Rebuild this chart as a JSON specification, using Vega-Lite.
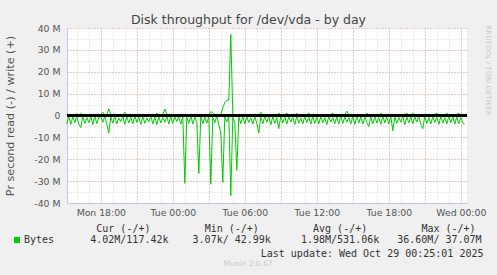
{
"$schema": "https://vega.github.io/schema/vega-lite/v6.json",
"width": 400, "height": 175,
"autosize": {"type": "none"},
"padding": {"left": 67, "top": 28, "right": 30, "bottom": 72},
"background": "#f0f0f0",
"config": {"view": {"stroke": null, "fill": "#ffffff"}, "font": "DejaVu Sans"},
"title": {"text": "Munin 2.0.67", "orient": "bottom", "frame": "group", "anchor": "middle", "dx": -19, "font": "DejaVu Sans", "fontSize": 7.5, "fontWeight": "normal", "color": "#c8c8c8", "offset": 2},
"datasets": {"d": [
{"t":"2025-10-27T15:10Z","r":-3.8,"w":0.3},{"t":"2025-10-27T15:20Z","r":-0.3,"w":0.2},{"t":"2025-10-27T15:30Z","r":-4.1,"w":0.4},{"t":"2025-10-27T15:40Z","r":-0.6,"w":0.1},{"t":"2025-10-27T15:50Z","r":-3.2,"w":0.3},
{"t":"2025-10-27T16:00Z","r":-0.4,"w":0.8},{"t":"2025-10-27T16:10Z","r":-3.9,"w":0.3},{"t":"2025-10-27T16:20Z","r":-5.5,"w":0.9},{"t":"2025-10-27T16:30Z","r":-0.5,"w":0.2},{"t":"2025-10-27T16:40Z","r":-3.6,"w":0.4},{"t":"2025-10-27T16:50Z","r":-0.9,"w":0.3},
{"t":"2025-10-27T17:00Z","r":-3.3,"w":0.2},{"t":"2025-10-27T17:10Z","r":-0.4,"w":0.5},{"t":"2025-10-27T17:20Z","r":-4.2,"w":0.3},{"t":"2025-10-27T17:30Z","r":-0.2,"w":0.4},{"t":"2025-10-27T17:40Z","r":-3.7,"w":0.2},{"t":"2025-10-27T17:50Z","r":-1.0,"w":0.3},
{"t":"2025-10-27T18:00Z","r":-0.5,"w":0.4},{"t":"2025-10-27T18:10Z","r":-3.1,"w":1.5},{"t":"2025-10-27T18:20Z","r":-0.3,"w":0.3},{"t":"2025-10-27T18:30Z","r":-3.8,"w":0.5},{"t":"2025-10-27T18:40Z","r":-8.0,"w":3.0},{"t":"2025-10-27T18:50Z","r":-0.6,"w":0.4},
{"t":"2025-10-27T19:00Z","r":-3.5,"w":0.2},{"t":"2025-10-27T19:10Z","r":-0.4,"w":0.6},{"t":"2025-10-27T19:20Z","r":-3.9,"w":0.3},{"t":"2025-10-27T19:30Z","r":-1.1,"w":0.2},{"t":"2025-10-27T19:40Z","r":-2.8,"w":0.4},{"t":"2025-10-27T19:50Z","r":-0.3,"w":0.3},
{"t":"2025-10-27T20:00Z","r":-4.0,"w":1.5},{"t":"2025-10-27T20:10Z","r":-0.5,"w":0.3},{"t":"2025-10-27T20:20Z","r":-3.4,"w":0.2},{"t":"2025-10-27T20:30Z","r":-0.8,"w":0.5},{"t":"2025-10-27T20:40Z","r":-3.9,"w":0.3},{"t":"2025-10-27T20:50Z","r":-0.2,"w":0.2},
{"t":"2025-10-27T21:00Z","r":-3.2,"w":0.4},{"t":"2025-10-27T21:10Z","r":-0.7,"w":0.3},{"t":"2025-10-27T21:20Z","r":-4.1,"w":0.2},{"t":"2025-10-27T21:30Z","r":-0.4,"w":0.6},{"t":"2025-10-27T21:40Z","r":-3.6,"w":0.3},{"t":"2025-10-27T21:50Z","r":-1.2,"w":0.4},
{"t":"2025-10-27T22:00Z","r":-2.9,"w":0.2},{"t":"2025-10-27T22:10Z","r":-0.3,"w":0.3},{"t":"2025-10-27T22:20Z","r":-3.8,"w":0.5},{"t":"2025-10-27T22:30Z","r":-0.5,"w":0.2},{"t":"2025-10-27T22:40Z","r":-4.2,"w":1.0},{"t":"2025-10-27T22:50Z","r":-0.6,"w":0.3},
{"t":"2025-10-27T23:00Z","r":-3.4,"w":0.4},{"t":"2025-10-27T23:10Z","r":-0.9,"w":0.2},{"t":"2025-10-27T23:20Z","r":-3.1,"w":3.0},{"t":"2025-10-27T23:30Z","r":-0.4,"w":0.5},{"t":"2025-10-27T23:40Z","r":-3.9,"w":0.3},{"t":"2025-10-27T23:50Z","r":-0.3,"w":0.2},
{"t":"2025-10-28T00:00Z","r":-3.7,"w":0.3},{"t":"2025-10-28T00:10Z","r":-0.5,"w":0.4},{"t":"2025-10-28T00:20Z","r":-2.8,"w":0.2},{"t":"2025-10-28T00:30Z","r":-0.6,"w":0.3},{"t":"2025-10-28T00:40Z","r":-4.0,"w":0.5},{"t":"2025-10-28T00:50Z","r":-0.4,"w":0.2},
{"t":"2025-10-28T01:00Z","r":-31.0,"w":0.4},{"t":"2025-10-28T01:10Z","r":-0.8,"w":0.2},{"t":"2025-10-28T01:20Z","r":-3.6,"w":0.3},{"t":"2025-10-28T01:30Z","r":-0.3,"w":0.6},{"t":"2025-10-28T01:40Z","r":-3.9,"w":0.2},{"t":"2025-10-28T01:50Z","r":-0.7,"w":0.3},
{"t":"2025-10-28T02:00Z","r":-3.2,"w":0.3},{"t":"2025-10-28T02:10Z","r":-26.5,"w":0.5},{"t":"2025-10-28T02:20Z","r":-0.4,"w":0.2},{"t":"2025-10-28T02:30Z","r":-3.8,"w":0.4},{"t":"2025-10-28T02:40Z","r":-0.6,"w":0.3},{"t":"2025-10-28T02:50Z","r":-3.5,"w":0.2},
{"t":"2025-10-28T03:00Z","r":-0.5,"w":0.4},{"t":"2025-10-28T03:10Z","r":-31.4,"w":1.8},{"t":"2025-10-28T03:20Z","r":-0.8,"w":1.2},{"t":"2025-10-28T03:30Z","r":-3.3,"w":0.3},{"t":"2025-10-28T03:40Z","r":-0.2,"w":0.2},{"t":"2025-10-28T03:50Z","r":-4.1,"w":0.4},
{"t":"2025-10-28T04:00Z","r":-8.0,"w":0.5},{"t":"2025-10-28T04:10Z","r":-30.5,"w":3.5},{"t":"2025-10-28T04:20Z","r":-0.6,"w":6.0},{"t":"2025-10-28T04:30Z","r":-2.9,"w":7.0},{"t":"2025-10-28T04:40Z","r":-0.4,"w":7.0},{"t":"2025-10-28T04:50Z","r":-36.6,"w":37.07},
{"t":"2025-10-28T05:00Z","r":-0.8,"w":0.3},{"t":"2025-10-28T05:10Z","r":-3.4,"w":0.2},{"t":"2025-10-28T05:20Z","r":-25.0,"w":0.4},{"t":"2025-10-28T05:30Z","r":-0.5,"w":0.3},{"t":"2025-10-28T05:40Z","r":-3.7,"w":0.5},{"t":"2025-10-28T05:50Z","r":-0.3,"w":0.2},
{"t":"2025-10-28T06:00Z","r":-3.9,"w":0.3},{"t":"2025-10-28T06:10Z","r":-0.6,"w":0.4},{"t":"2025-10-28T06:20Z","r":-3.2,"w":0.2},{"t":"2025-10-28T06:30Z","r":-1.0,"w":0.5},{"t":"2025-10-28T06:40Z","r":-4.0,"w":0.3},{"t":"2025-10-28T06:50Z","r":-0.4,"w":0.6},
{"t":"2025-10-28T07:00Z","r":-3.5,"w":0.2},{"t":"2025-10-28T07:10Z","r":-8.0,"w":0.3},{"t":"2025-10-28T07:20Z","r":-0.5,"w":1.5},{"t":"2025-10-28T07:30Z","r":-3.8,"w":0.4},{"t":"2025-10-28T07:40Z","r":-0.3,"w":0.2},{"t":"2025-10-28T07:50Z","r":-3.1,"w":0.3},
{"t":"2025-10-28T08:00Z","r":-0.7,"w":0.4},{"t":"2025-10-28T08:10Z","r":-4.2,"w":0.2},{"t":"2025-10-28T08:20Z","r":-0.4,"w":0.3},{"t":"2025-10-28T08:30Z","r":-3.6,"w":0.5},{"t":"2025-10-28T08:40Z","r":-0.9,"w":0.2},{"t":"2025-10-28T08:50Z","r":-6.0,"w":1.0},
{"t":"2025-10-28T09:00Z","r":-0.3,"w":0.3},{"t":"2025-10-28T09:10Z","r":-3.4,"w":0.2},{"t":"2025-10-28T09:20Z","r":-0.6,"w":0.4},{"t":"2025-10-28T09:30Z","r":-3.9,"w":1.0},{"t":"2025-10-28T09:40Z","r":-0.5,"w":0.3},{"t":"2025-10-28T09:50Z","r":-3.0,"w":0.2},
{"t":"2025-10-28T10:00Z","r":-0.8,"w":0.5},{"t":"2025-10-28T10:10Z","r":-4.1,"w":0.3},{"t":"2025-10-28T10:20Z","r":-0.3,"w":1.0},{"t":"2025-10-28T10:30Z","r":-3.5,"w":0.2},{"t":"2025-10-28T10:40Z","r":-1.1,"w":0.4},{"t":"2025-10-28T10:50Z","r":-3.8,"w":0.3},
{"t":"2025-10-28T11:00Z","r":-0.4,"w":0.2},{"t":"2025-10-28T11:10Z","r":-3.2,"w":0.4},{"t":"2025-10-28T11:20Z","r":-0.7,"w":1.0},{"t":"2025-10-28T11:30Z","r":-4.0,"w":0.3},{"t":"2025-10-28T11:40Z","r":-0.2,"w":0.2},{"t":"2025-10-28T11:50Z","r":-3.6,"w":0.5},
{"t":"2025-10-28T12:00Z","r":-0.6,"w":0.3},{"t":"2025-10-28T12:10Z","r":-3.9,"w":0.2},{"t":"2025-10-28T12:20Z","r":-0.4,"w":0.4},{"t":"2025-10-28T12:30Z","r":-3.3,"w":0.3},{"t":"2025-10-28T12:40Z","r":-0.9,"w":0.5},{"t":"2025-10-28T12:50Z","r":-4.2,"w":0.2},
{"t":"2025-10-28T13:00Z","r":-0.3,"w":0.4},{"t":"2025-10-28T13:10Z","r":-3.0,"w":0.3},{"t":"2025-10-28T13:20Z","r":-0.8,"w":1.0},{"t":"2025-10-28T13:30Z","r":-3.7,"w":0.2},{"t":"2025-10-28T13:40Z","r":-0.5,"w":0.3},{"t":"2025-10-28T13:50Z","r":-4.0,"w":0.4},
{"t":"2025-10-28T14:00Z","r":-0.2,"w":0.2},{"t":"2025-10-28T14:10Z","r":-3.6,"w":0.5},{"t":"2025-10-28T14:20Z","r":-0.6,"w":0.3},{"t":"2025-10-28T14:30Z","r":-3.1,"w":2.0},{"t":"2025-10-28T14:40Z","r":-1.0,"w":0.4},{"t":"2025-10-28T14:50Z","r":-3.8,"w":0.2},
{"t":"2025-10-28T15:00Z","r":-0.4,"w":0.3},{"t":"2025-10-28T15:10Z","r":-4.1,"w":0.4},{"t":"2025-10-28T15:20Z","r":-0.3,"w":0.2},{"t":"2025-10-28T15:30Z","r":-3.4,"w":0.3},{"t":"2025-10-28T15:40Z","r":-0.7,"w":0.5},{"t":"2025-10-28T15:50Z","r":-3.9,"w":0.3},
{"t":"2025-10-28T16:00Z","r":-0.5,"w":0.2},{"t":"2025-10-28T16:10Z","r":-3.2,"w":1.0},{"t":"2025-10-28T16:20Z","r":-5.0,"w":0.3},{"t":"2025-10-28T16:30Z","r":-0.6,"w":0.4},{"t":"2025-10-28T16:40Z","r":-3.8,"w":0.2},{"t":"2025-10-28T16:50Z","r":-0.4,"w":0.3},
{"t":"2025-10-28T17:00Z","r":-3.5,"w":0.4},{"t":"2025-10-28T17:10Z","r":-0.9,"w":0.2},{"t":"2025-10-28T17:20Z","r":-4.0,"w":1.0},{"t":"2025-10-28T17:30Z","r":-0.3,"w":0.3},{"t":"2025-10-28T17:40Z","r":-3.3,"w":0.5},{"t":"2025-10-28T17:50Z","r":-0.6,"w":0.2},
{"t":"2025-10-28T18:00Z","r":-3.9,"w":0.3},{"t":"2025-10-28T18:10Z","r":-0.4,"w":0.4},{"t":"2025-10-28T18:20Z","r":-7.0,"w":0.2},{"t":"2025-10-28T18:30Z","r":-0.5,"w":0.3},{"t":"2025-10-28T18:40Z","r":-3.6,"w":0.2},{"t":"2025-10-28T18:50Z","r":-0.8,"w":0.4},
{"t":"2025-10-28T19:00Z","r":-3.1,"w":0.2},{"t":"2025-10-28T19:10Z","r":-0.3,"w":0.3},{"t":"2025-10-28T19:20Z","r":-4.2,"w":0.5},{"t":"2025-10-28T19:30Z","r":-0.7,"w":1.0},{"t":"2025-10-28T19:40Z","r":-3.4,"w":0.3},{"t":"2025-10-28T19:50Z","r":-0.5,"w":0.2},
{"t":"2025-10-28T20:00Z","r":-3.8,"w":1.0},{"t":"2025-10-28T20:10Z","r":-0.6,"w":0.4},{"t":"2025-10-28T20:20Z","r":-3.0,"w":0.2},{"t":"2025-10-28T20:30Z","r":-0.4,"w":0.3},{"t":"2025-10-28T20:40Z","r":-4.0,"w":0.5},{"t":"2025-10-28T20:50Z","r":-6.0,"w":0.3},
{"t":"2025-10-28T21:00Z","r":-0.3,"w":0.2},{"t":"2025-10-28T21:10Z","r":-3.6,"w":0.3},{"t":"2025-10-28T21:20Z","r":-0.8,"w":0.4},{"t":"2025-10-28T21:30Z","r":-3.9,"w":0.2},{"t":"2025-10-28T21:40Z","r":-0.5,"w":0.3},{"t":"2025-10-28T21:50Z","r":-3.2,"w":0.5},
{"t":"2025-10-28T22:00Z","r":-0.7,"w":1.0},{"t":"2025-10-28T22:10Z","r":-4.1,"w":0.2},{"t":"2025-10-28T22:20Z","r":-0.4,"w":0.3},{"t":"2025-10-28T22:30Z","r":-3.5,"w":0.4},{"t":"2025-10-28T22:40Z","r":-0.9,"w":0.2},{"t":"2025-10-28T22:50Z","r":-3.8,"w":1.0},
{"t":"2025-10-28T23:00Z","r":-0.3,"w":0.3},{"t":"2025-10-28T23:10Z","r":-3.3,"w":0.4},{"t":"2025-10-28T23:20Z","r":-0.6,"w":0.2},{"t":"2025-10-28T23:30Z","r":-4.0,"w":0.3},{"t":"2025-10-28T23:40Z","r":-0.5,"w":0.5},{"t":"2025-10-28T23:50Z","r":-3.7,"w":1.0},
{"t":"2025-10-29T00:00Z","r":-0.8,"w":0.3},{"t":"2025-10-29T00:10Z","r":-3.4,"w":0.2},{"t":"2025-10-29T00:20Z","r":-4.02,"w":0.12}
]},
"data": {"name": "d"},
"layer": [
{"mark": {"type": "line", "strokeWidth": 1},
 "encoding": {
  "x": {"field": "t", "type": "temporal",
   "scale": {"type": "utc", "domain": [{"year": 2025, "month": 10, "date": 27, "hours": 15, "minutes": 11, "utc": true}, {"year": 2025, "month": 10, "date": 29, "hours": 0, "minutes": 31, "utc": true}]},
   "axis": {"orient": "bottom", "tickCount": 34,
    "labelExpr": "utchours(datum.value) % 6 == 0 ? utcFormat(datum.value, '%a %H:%M') : ''",
    "labelFont": "DejaVu Sans", "labelFontSize": 9.3, "labelColor": "#555555", "labelPadding": 5, "labelOverlap": false, "labelFlush": false,
    "ticks": false, "tickSize": 0,
    "domainColor": "#c4c4f4", "domainWidth": 1,
    "grid": true, "gridDash": [1, 2], "gridOpacity": 1, "gridColor": "#d4d4d4",
    "title": "Last update: Wed Oct 29 00:25:01 2025", "titleFont": "DejaVu Sans Mono", "titleFontSize": 10, "titleFontWeight": "normal", "titleColor": "#333333",
    "titleAlign": "right", "titleBaseline": "alphabetic", "titleX": 416, "titleY": 53}},
  "y": {"field": "r", "type": "quantitative",
   "scale": {"domain": [-40, 40], "nice": false, "zero": false},
   "axis": {"orient": "left", "values": [-40, -35, -30, -25, -20, -15, -10, -5, 0, 5, 10, 15, 20, 25, 30, 35, 40],
    "labelExpr": "datum.value % 10 == 0 ? (datum.value == 0 ? '0' : datum.value + ' M') : ''",
    "labelFont": "DejaVu Sans", "labelFontSize": 9.3, "labelColor": "#555555", "labelPadding": 7, "labelOverlap": false,
    "ticks": false, "tickSize": 0,
    "domainColor": "#c4c4f4", "domainWidth": 1,
    "grid": true, "gridDash": [1, 2], "gridOpacity": 1, "gridColor": "#d4d4d4",
    "title": "Pr second read (-) / write (+)", "titleFont": "DejaVu Sans", "titleFontSize": 11.2, "titleFontWeight": "normal", "titleColor": "#555555",
    "titleAngle": -90, "titleAlign": "center", "titleBaseline": "alphabetic", "titleX": -53.5, "titleY": 87.5}},
  "color": {"datum": "Bytes", "type": "nominal",
   "scale": {"domain": ["Bytes"], "range": ["#00cc00"]},
   "legend": {"orient": "none", "legendX": -55, "legendY": 196,
    "title": "\u200b\u00a0\u00a0\u00a0\u00a0\u00a0\u00a0\u00a0\u00a0\u00a0\u00a0\u00a0\u00a0\u00a0\u00a0Cur\u00a0(-/+)\u00a0\u00a0\u00a0\u00a0\u00a0\u00a0\u00a0\u00a0\u00a0Min\u00a0(-/+)\u00a0\u00a0\u00a0\u00a0\u00a0\u00a0\u00a0\u00a0\u00a0Avg\u00a0(-/+)\u00a0\u00a0\u00a0\u00a0\u00a0\u00a0\u00a0\u00a0\u00a0Max\u00a0(-/+)",
    "titleFont": "DejaVu Sans Mono", "titleFontSize": 10, "titleFontWeight": "normal", "titleColor": "#333333", "titlePadding": 1, "titleLimit": 1000,
    "labelExpr": "'Bytes\u00a0\u00a0\u00a0\u00a0\u00a0\u00a04.02M/117.42k\u00a0\u00a0\u00a0\u00a03.07k/\u00a042.99k\u00a0\u00a0\u00a0\u00a0\u00a01.98M/531.06k\u00a0\u00a0\u00a036.60M/\u00a037.07M'",
    "labelFont": "DejaVu Sans Mono", "labelFontSize": 10, "labelColor": "#333333", "labelLimit": 1000, "labelOffset": 2,
    "symbolType": "square", "symbolSize": 36, "symbolFillColor": "#00cc00", "symbolStrokeColor": "#00cc00", "symbolStrokeWidth": 0}}
 }},
{"mark": {"type": "line", "strokeWidth": 1},
 "encoding": {
  "x": {"field": "t", "type": "temporal",
   "scale": {"type": "utc", "domain": [{"year": 2025, "month": 10, "date": 27, "hours": 15, "minutes": 11, "utc": true}, {"year": 2025, "month": 10, "date": 29, "hours": 0, "minutes": 31, "utc": true}]},
   "axis": {"orient": "top", "tickCount": 12, "labels": false, "ticks": false, "domain": false,
    "grid": true, "gridDash": [1, 2], "gridOpacity": 1, "gridColor": "#eba3a3",
    "title": "Disk throughput for /dev/vda - by day", "titleFont": "DejaVu Sans", "titleFontSize": 12.5, "titleFontWeight": "normal", "titleColor": "#444444",
    "titleAlign": "center", "titleBaseline": "alphabetic", "titleX": 181, "titleY": -5}},
  "y": {"field": "w", "type": "quantitative",
   "scale": {"domain": [-40, 40], "nice": false, "zero": false},
   "axis": {"orient": "right", "values": [-40, -30, -20, -10, 0, 10, 20, 30, 40], "labels": false, "ticks": false, "domain": false,
    "grid": true, "gridDash": [1, 2], "gridOpacity": 1, "gridColor": "#eba3a3",
    "title": "RRDTOOL / TOBI OETIKER", "titleFont": "DejaVu Sans", "titleFontSize": 7, "titleFontWeight": "normal", "titleColor": "#c8c8c8",
    "titleAngle": 90, "titleAlign": "left", "titleBaseline": "alphabetic", "titleX": 18, "titleY": -3}},
  "color": {"datum": "Bytes", "type": "nominal"}
 }},
{"mark": {"type": "rule", "color": "#000000", "strokeWidth": 1.3},
 "encoding": {"y": {"datum": 0, "type": "quantitative", "scale": {"domain": [-40, 40], "nice": false, "zero": false}, "axis": null}}}
],
"resolve": {"scale": {"x": "independent", "y": "independent"}}
}
